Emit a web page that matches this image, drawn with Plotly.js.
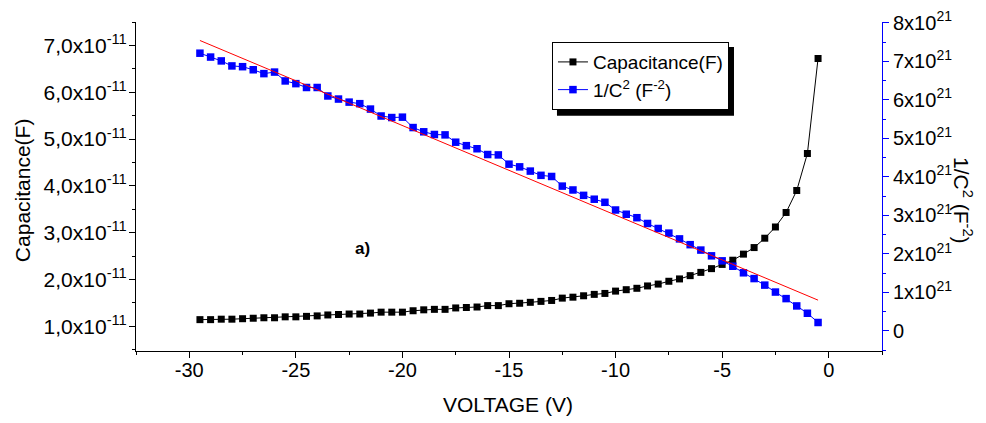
<!DOCTYPE html>
<html>
<head>
<meta charset="utf-8">
<script src="https://cdn.plot.ly/plotly-3.0.1.min.js"></script>
<style>html,body{margin:0;padding:0;background:#fff;}#chart{width:986px;height:423px;}</style>
</head>
<body>
<div id="chart"></div>
<script>
// Voltage (V)
const voltage = [-29.5,-29,-28.5,-28,-27.5,-27,-26.5,-26,-25.5,-25,-24.5,-24,-23.5,-23,-22.5,-22,-21.5,-21,-20.5,-20,
  -19.5,-19,-18.5,-18,-17.5,-17,-16.5,-16,-15.5,-15,-14.5,-14,-13.5,-13,-12.5,-12,-11.5,-11,-10.5,-10,
  -9.5,-9,-8.5,-8,-7.5,-7,-6.5,-6,-5.5,-5,-4.5,-4,-3.5,-3,-2.5,-2,-1.5,-1,-0.5];
// Capacitance (F)
const capacitance = [1.14e-11,1.14e-11,1.15e-11,1.15e-11,1.16e-11,1.17e-11,1.18e-11,1.18e-11,1.20e-11,1.20e-11,
  1.21e-11,1.22e-11,1.24e-11,1.25e-11,1.26e-11,1.26e-11,1.28e-11,1.30e-11,1.30e-11,1.30e-11,
  1.33e-11,1.35e-11,1.36e-11,1.36e-11,1.39e-11,1.40e-11,1.41e-11,1.44e-11,1.44e-11,1.48e-11,
  1.49e-11,1.51e-11,1.53e-11,1.55e-11,1.60e-11,1.62e-11,1.65e-11,1.68e-11,1.70e-11,1.75e-11,
  1.78e-11,1.81e-11,1.86e-11,1.90e-11,1.96e-11,2.01e-11,2.08e-11,2.15e-11,2.23e-11,2.32e-11,
  2.41e-11,2.54e-11,2.68e-11,2.88e-11,3.12e-11,3.43e-11,3.90e-11,4.69e-11,6.72e-11];
// 1/C^2 (F^-2)
const invC2 = [7.21e21,7.11e21,7.01e21,6.88e21,6.86e21,6.78e21,6.68e21,6.72e21,6.49e21,6.42e21,
  6.32e21,6.32e21,6.10e21,6.02e21,5.94e21,5.90e21,5.76e21,5.58e21,5.54e21,5.55e21,
  5.28e21,5.17e21,5.10e21,5.09e21,4.90e21,4.81e21,4.73e21,4.58e21,4.57e21,4.33e21,
  4.26e21,4.15e21,4.04e21,4.01e21,3.76e21,3.66e21,3.52e21,3.42e21,3.34e21,3.14e21,
  3.03e21,2.94e21,2.79e21,2.66e21,2.54e21,2.39e21,2.24e21,2.10e21,1.95e21,1.82e21,
  1.68e21,1.51e21,1.36e21,1.19e21,1.01e21,0.84e21,0.65e21,0.46e21,0.22e21];
// Linear fit of 1/C^2 (end points)
const fitVoltage = [-29.5, -0.5];
const fitInvC2 = [7.54e21, 0.80e21];

// Tick labels
const xTickVals = [-30,-25,-20,-15,-10,-5,0];
const xTickText = ['-30','-25','-20','-15','-10','-5','0'];
const yTickVals = [1e-11,2e-11,3e-11,4e-11,5e-11,6e-11,7e-11];
const yTickText = ['1,0x10<sup>-11</sup>','2,0x10<sup>-11</sup>','3,0x10<sup>-11</sup>','4,0x10<sup>-11</sup>',
  '5,0x10<sup>-11</sup>','6,0x10<sup>-11</sup>','7,0x10<sup>-11</sup>'];
const y2TickVals = [0,1e21,2e21,3e21,4e21,5e21,6e21,7e21,8e21];
const y2TickText = ['0','1x10<sup>21</sup>','2x10<sup>21</sup>','3x10<sup>21</sup>','4x10<sup>21</sup>',
  '5x10<sup>21</sup>','6x10<sup>21</sup>','7x10<sup>21</sup>','8x10<sup>21</sup>'];

const FONT = 'Liberation Sans, Arial, sans-serif';

const traces = [
  {x: voltage, y: capacitance, type: 'scatter', mode: 'lines+markers', name: 'Capacitance(F)',
   line: {color: '#000000', width: 1}, marker: {symbol: 'square', size: 7, color: '#000000'},
   xaxis: 'x', yaxis: 'y'},
  {x: voltage, y: invC2, type: 'scatter', mode: 'lines+markers', name: '1/C<sup>2</sup> (F<sup>-2</sup>)',
   line: {color: '#0000ff', width: 1}, marker: {symbol: 'square', size: 7.5, color: '#0000ff'},
   xaxis: 'x', yaxis: 'y2'},
  {x: fitVoltage, y: fitInvC2, type: 'scatter', mode: 'lines', showlegend: false,
   line: {color: '#ff0000', width: 1}, xaxis: 'x', yaxis: 'y2'}
];

const layout = {
  width: 986, height: 423,
  margin: {l: 136, r: 104, t: 22, b: 72, pad: 0},
  paper_bgcolor: '#ffffff', plot_bgcolor: '#ffffff',
  font: {family: FONT, size: 20, color: '#000000'},
  showlegend: true,
  legend: {x: 0.5576, y: 0.939, xanchor: 'left', yanchor: 'top',
    bgcolor: '#ffffff', bordercolor: '#000000', borderwidth: 1,
    font: {family: FONT, size: 19, color: '#000000'}, tracegroupgap: 0, itemwidth: 30},
  shapes: [
    {type: 'rect', xref: 'paper', yref: 'paper', x0: 0.5643, x1: 0.8016, y0: 0.715, y1: 0.924,
     fillcolor: '#000000', line: {width: 0}, layer: 'above'}
  ],
  xaxis: {range: [-32.5, 2.5], showgrid: false, zeroline: false,
    showline: true, linecolor: '#000000', linewidth: 1,
    ticks: 'outside', ticklen: 6, tickcolor: '#000000', tickwidth: 1,
    tickmode: 'array', tickvals: xTickVals, ticktext: xTickText, ticklabelstandoff: -5,
    tickfont: {family: FONT, size: 20, color: '#000000'},
    minor: {tickmode: 'linear', tick0: -32.5, dtick: 2.5, ticks: 'outside', ticklen: 3, tickcolor: '#000000', showgrid: false},
    anchor: 'y'},
  xaxis2: {range: [-32.5, 2.5], overlaying: 'x', side: 'top', anchor: 'y', showgrid: false, zeroline: false,
    showline: true, linecolor: '#000000', linewidth: 1,
    ticks: 'inside', ticklen: 4, tickcolor: '#000000',
    tickmode: 'array', tickvals: xTickVals, showticklabels: false},
  yaxis: {range: [0.47e-11, 7.5e-11], showgrid: false, zeroline: false,
    showline: true, linecolor: '#000000', linewidth: 1,
    ticks: 'outside', ticklen: 6, tickcolor: '#000000', tickwidth: 1,
    tickmode: 'array', tickvals: yTickVals, ticktext: yTickText, ticklabelstandoff: -2,
    tickfont: {family: FONT, size: 21, color: '#000000'},
    minor: {tickmode: 'linear', tick0: 0, dtick: 0.5e-11, ticks: 'outside', ticklen: 3, tickcolor: '#000000', showgrid: false}},
  yaxis2: {range: [-0.52e21, 8.02e21], overlaying: 'y', side: 'right', anchor: 'x',
    showgrid: false, zeroline: false,
    showline: true, linecolor: '#0000ff', linewidth: 1,
    ticks: 'outside', ticklen: 6, tickcolor: '#0000ff', tickwidth: 1,
    tickmode: 'array', tickvals: y2TickVals, ticktext: y2TickText,
    tickfont: {family: FONT, size: 20, color: '#000000'},
    minor: {tickmode: 'linear', tick0: 0, dtick: 0.5e21, ticks: 'outside', ticklen: 3, tickcolor: '#0000ff', showgrid: false}},
  annotations: [
    {text: 'Capacitance(F)', xref: 'paper', yref: 'paper', x: -0.1528, y: 0.489,
     xanchor: 'center', yanchor: 'middle',
     textangle: -90, showarrow: false, font: {family: FONT, size: 21, color: '#000000'}},
    {text: '1/C<sup>2</sup> (F<sup>-2</sup>)', xref: 'paper', yref: 'paper', x: 1.1086, y: 0.459,
     xanchor: 'center', yanchor: 'middle',
     textangle: 90, showarrow: false, font: {family: FONT, size: 21, color: '#000000'}},
    {text: 'VOLTAGE (V)', xref: 'paper', yref: 'paper', x: 0.4987, y: -0.164,
     xanchor: 'center', yanchor: 'middle',
     showarrow: false, font: {family: FONT, size: 21, color: '#000000'}},
    {text: '<b>a)</b>', xref: 'paper', yref: 'paper', x: 0.303, y: 0.313,
     xanchor: 'center', yanchor: 'middle',
     showarrow: false, font: {family: FONT, size: 17, color: '#000000'}}
  ]
};

Plotly.newPlot('chart', traces, layout, {displayModeBar: false, staticPlot: true});
</script>
</body>
</html>
